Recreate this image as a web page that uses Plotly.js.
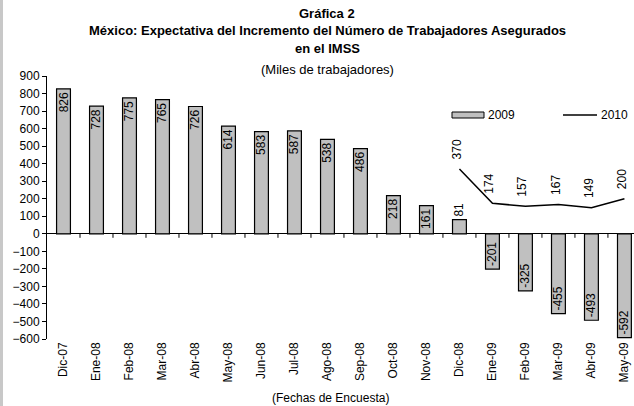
<!DOCTYPE html>
<html>
<head>
<meta charset="utf-8">
<script src="https://cdn.plot.ly/plotly-3.0.1.min.js"></script>
<style>
    body { margin: 0; background: #fff; }
    #grafico { position: absolute; left: 0; top: 0; width: 634px; height: 406px; }
    #borde { position: absolute; left: 0; top: 0; width: 3px; height: 406px; background: #c8c8c8; }
</style>
</head>
<body>
<div id="grafico"></div>
<div id="borde"></div>
<script>
// Fechas de encuesta (eje x)
const meses = ["Dic-07", "Ene-08", "Feb-08", "Mar-08", "Abr-08", "May-08", "Jun-08", "Jul-08",
    "Ago-08", "Sep-08", "Oct-08", "Nov-08", "Dic-08", "Ene-09", "Feb-09", "Mar-09", "Abr-09", "May-09"];

// Expectativa 2009 (barras)
const valores2009 = [826, 728, 775, 765, 726, 614, 583, 587, 538, 486, 218, 161, 81, -201, -325, -455, -493, -592];

// Expectativa 2010 (línea), desde Dic-08
const meses2010 = ["Dic-08", "Ene-09", "Feb-09", "Mar-09", "Abr-09", "May-09"];
const valores2010 = [370, 174, 157, 167, 149, 200];

const fuente = "Liberation Sans, Arial, sans-serif";

const barras = {
    x: meses,
    y: valores2009,
    type: 'bar',
    name: '2009',
    width: 0.42,
    marker: { color: '#c0c0c0', line: { color: '#000', width: 1.2 } },
    text: valores2009.map(v => String(v)),
    textangle: -90,
    textposition: valores2009.map(v => Math.abs(v) < 100 ? 'outside' : 'inside'),
    insidetextanchor: 'end',
    constraintext: 'none',
    textfont: { family: fuente, size: 12, color: '#000' },
    cliponaxis: false
};

const linea = {
    x: meses2010,
    y: valores2010,
    type: 'scatter',
    mode: 'lines',
    name: '2010',
    line: { color: '#000', width: 1.5 }
};

// Etiquetas de la línea 2010 (giradas)
const etiquetas2010 = meses2010.map((m, i) => ({
    x: m,
    y: valores2010[i],
    xref: 'x',
    yref: 'y',
    text: String(valores2010[i]),
    textangle: -90,
    showarrow: false,
    xanchor: 'center',
    yanchor: 'bottom',
    xshift: -3,
    yshift: 8,
    font: { family: fuente, size: 12, color: '#000' }
}));

// conversión de píxeles a coordenadas paper del área de trazado
const altoPlot = 406 - 76 - 67;
const px = v => (v - 47) / 587;
const py = v => (339 - v) / altoPlot;

// Títulos
const titulos = [
    { texto: '<b>Gráfica 2</b>', y: 13 },
    { texto: '<b>México: Expectativa del Incremento del Número de Trabajadores Asegurados</b>', y: 31 },
    { texto: '<b>en el IMSS</b>', y: 49 },
    { texto: '(Miles de trabajadores)', y: 69 }
].map(t => ({
    x: px(327),
    y: py(t.y),
    xref: 'paper',
    yref: 'paper',
    text: t.texto,
    showarrow: false,
    xanchor: 'center',
    yanchor: 'middle',
    font: { family: fuente, size: 13, color: '#000' }
}));

const ejeTitulo = {
    x: px(330),
    y: py(398),
    xref: 'paper',
    yref: 'paper',
    text: '(Fechas de Encuesta)',
    showarrow: false,
    xanchor: 'center',
    yanchor: 'middle',
    font: { family: fuente, size: 12, color: '#000' }
};

// Marcas del eje en cero, entre categorías
const marcas = meses.slice(0, -1).map((m, i) => ({
    type: 'line',
    xref: 'x',
    yref: 'y',
    x0: i + 0.5,
    x1: i + 0.5,
    ysizemode: 'pixel',
    yanchor: 0,
    y0: 0,
    y1: -4,
    line: { color: '#000', width: 1 }
}));

// Leyenda dibujada a mano
const leyendaFormas = [
    { type: 'rect', xref: 'paper', yref: 'paper', x0: px(452), x1: px(484), y0: py(118), y1: py(112),
      fillcolor: '#c0c0c0', line: { color: '#000', width: 1 } },
    { type: 'line', xref: 'paper', yref: 'paper', x0: px(563), x1: px(597), y0: py(115), y1: py(115),
      line: { color: '#000', width: 1.5 } }
];
const leyendaTextos = [
    { x: px(486), y: py(115), text: '2009' },
    { x: px(599), y: py(115), text: '2010' }
].map(l => ({
    x: l.x, y: l.y, xref: 'paper', yref: 'paper', text: l.text, showarrow: false,
    xanchor: 'left', yanchor: 'middle', font: { family: fuente, size: 12, color: '#000' }
}));

const layout = {
    width: 634,
    height: 406,
    margin: { l: 47, r: 0, t: 76, b: 67 },
    paper_bgcolor: '#fff',
    plot_bgcolor: '#fff',
    showlegend: false,
    font: { family: fuente, size: 12, color: '#000' },
    xaxis: {
        type: 'category',
        categoryorder: 'array',
        categoryarray: meses,
        range: [-0.5, 17.29],
        tickangle: -90,
        ticks: '',
        showline: false,
        showgrid: false,
        zeroline: false,
        tickfont: { family: fuente, size: 12, color: '#000' }
    },
    yaxis: {
        range: [-600, 900],
        dtick: 100,
        ticks: 'outside',
        ticklen: 4,
        tickcolor: '#000',
        showline: true,
        linecolor: '#000',
        linewidth: 1,
        showgrid: false,
        zeroline: true,
        zerolinecolor: '#000',
        zerolinewidth: 1,
        tickfont: { family: fuente, size: 12, color: '#000' }
    },
    shapes: marcas.concat(leyendaFormas),
    annotations: titulos.concat(etiquetas2010, [ejeTitulo], leyendaTextos)
};

Plotly.newPlot('grafico', [barras, linea], layout, { displayModeBar: false, staticPlot: true });
</script>
</body>
</html>
